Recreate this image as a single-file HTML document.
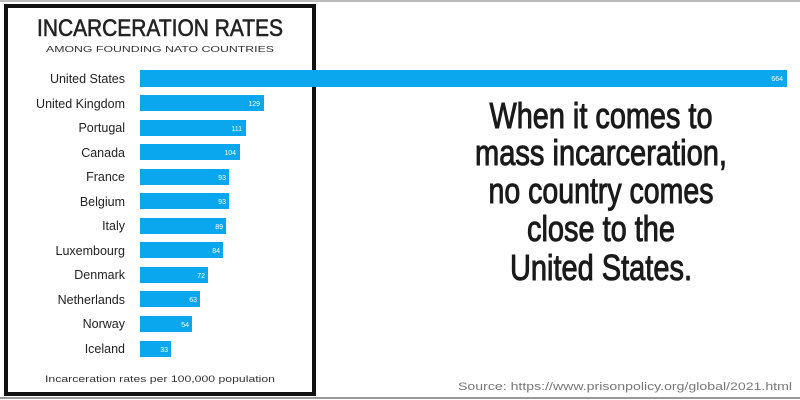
<!DOCTYPE html>
<html><head><meta charset="utf-8"><style>
html,body{margin:0;padding:0;background:#fff;width:800px;height:400px;overflow:hidden}
</style></head><body>
<svg width="800" height="400" viewBox="0 0 800 400" xmlns="http://www.w3.org/2000/svg" font-family="Liberation Sans, sans-serif">
<rect x="0" y="0" width="800" height="400" fill="#fff"/>
<line x1="0" y1="1" x2="800" y2="1" stroke="#bbb" stroke-width="2"/>
<line x1="0" y1="398" x2="800" y2="398" stroke="#999" stroke-width="2"/>
<rect x="6" y="6" width="308" height="388" fill="none" stroke="#111" stroke-width="4"/>
<text x="160" y="36" text-anchor="middle" font-size="24" fill="#222" stroke="#222" stroke-width="0.6" textLength="246" lengthAdjust="spacingAndGlyphs">INCARCERATION RATES</text>
<text x="160" y="52" text-anchor="middle" font-size="8.5" fill="#333" textLength="228" lengthAdjust="spacingAndGlyphs">AMONG FOUNDING NATO COUNTRIES</text>
<g font-size="12.5" fill="#222" text-anchor="end">
<text x="125" y="83">United States</text>
<text x="125" y="108">United Kingdom</text>
<text x="125" y="132">Portugal</text>
<text x="125" y="157">Canada</text>
<text x="125" y="181">France</text>
<text x="125" y="206">Belgium</text>
<text x="125" y="230">Italy</text>
<text x="125" y="255">Luxembourg</text>
<text x="125" y="279">Denmark</text>
<text x="125" y="304">Netherlands</text>
<text x="125" y="328">Norway</text>
<text x="125" y="353">Iceland</text>
</g>
<g fill="#0aa6ee">
<rect x="140" y="70" width="647" height="17"/>
<rect x="140" y="95" width="124" height="16"/>
<rect x="140" y="120" width="106" height="16"/>
<rect x="140" y="144" width="100" height="16"/>
<rect x="140" y="169" width="89" height="16"/>
<rect x="140" y="193" width="89" height="16"/>
<rect x="140" y="218" width="86" height="16"/>
<rect x="140" y="242" width="83" height="16"/>
<rect x="140" y="267" width="68" height="16"/>
<rect x="140" y="291" width="60" height="16"/>
<rect x="140" y="316" width="52" height="16"/>
<rect x="140" y="341" width="31" height="16"/>
</g>
<g font-size="7" fill="#fff" text-anchor="end">
<text x="783" y="81">664</text>
<text x="260" y="106">129</text>
<text x="242" y="131">111</text>
<text x="236" y="155">104</text>
<text x="226" y="180">93</text>
<text x="226" y="204">93</text>
<text x="223" y="229">89</text>
<text x="220" y="253">84</text>
<text x="205" y="278">72</text>
<text x="197" y="302">63</text>
<text x="189" y="327">54</text>
<text x="168" y="352">33</text>
</g>
<text x="160" y="382" text-anchor="middle" font-size="9.5" fill="#333" textLength="230" lengthAdjust="spacingAndGlyphs">Incarceration rates per 100,000 population</text>
<g font-size="36" fill="#1a1a1a" stroke="#1a1a1a" stroke-width="1" text-anchor="middle">
<text x="601" y="128" textLength="223" lengthAdjust="spacingAndGlyphs">When it comes to</text>
<text x="601" y="165" textLength="252" lengthAdjust="spacingAndGlyphs">mass incarceration,</text>
<text x="601" y="203" textLength="225" lengthAdjust="spacingAndGlyphs">no country comes</text>
<text x="601" y="241" textLength="148" lengthAdjust="spacingAndGlyphs">close to the</text>
<text x="601" y="280" textLength="182" lengthAdjust="spacingAndGlyphs">United States.</text>
</g>
<text x="458" y="390" font-size="11" fill="#777" textLength="334" lengthAdjust="spacingAndGlyphs">Source: https://www.prisonpolicy.org/global/2021.html</text>
</svg>
</body></html>
